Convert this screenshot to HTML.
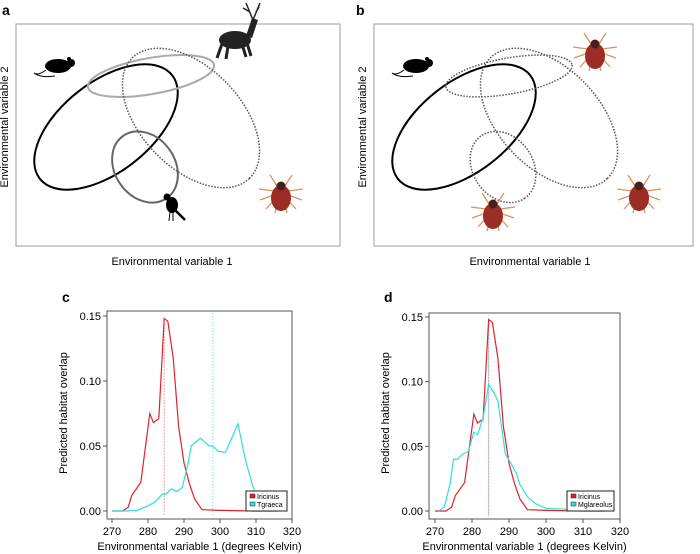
<!DOCTYPE html>
<html><head><meta charset="utf-8"><style>
body{margin:0;background:#fff;}
svg{display:block;font-family:"Liberation Sans",sans-serif;}
</style></head><body>
<svg id="fig" width="700" height="554" viewBox="0 0 700 554">
<!-- Panel a -->
<g>
<text x="2" y="15" font-size="14" font-weight="bold">a</text>
<rect x="16" y="24" width="324" height="222" fill="none" stroke="#9a9aa4" stroke-width="1"/>
<text x="172" y="265" font-size="11" text-anchor="middle">Environmental variable 1</text>
<text transform="translate(8,127) rotate(-90)" font-size="11" text-anchor="middle">Environmental variable 2</text>
<ellipse cx="106" cy="127" rx="84" ry="45" transform="rotate(-38 106 127)" fill="none" stroke="#000" stroke-width="2"/>
<ellipse cx="151" cy="76" rx="64" ry="18" transform="rotate(-10 151 76)" fill="none" stroke="#aaa" stroke-width="2"/>
<ellipse cx="191" cy="118" rx="84" ry="50" transform="rotate(46 191 118)" fill="none" stroke="#555" stroke-width="1.5" stroke-dasharray="1.5,1.5"/>
<ellipse cx="145" cy="167" rx="38" ry="30" transform="rotate(55 145 167)" fill="none" stroke="#666" stroke-width="2"/>
<g><ellipse cx="58" cy="66" rx="13" ry="7" fill="#000"/><circle cx="71" cy="63" r="4" fill="#000"/><circle cx="69" cy="59" r="2" fill="#000"/><path d="M46 70 Q38 76 34 73 Q40 78 55 76" stroke="#000" fill="none" stroke-width="1"/></g>
<g><ellipse cx="235" cy="40" rx="16" ry="9" fill="#222"/><path d="M246 36 L252 18 L258 20 L252 38 Z" fill="#222"/><path d="M253 20 L246 3 M253 20 L260 3 M250 12 L243 8 M256 12 L259 7" stroke="#222" stroke-width="1.5"/><path d="M222 44 L217 58 M228 46 L226 59 M242 44 L246 57 M247 43 L251 56" stroke="#222" stroke-width="3"/></g>
<g><ellipse cx="172" cy="205" rx="6" ry="8" fill="#000"/><circle cx="167" cy="197" r="3.5" fill="#000"/><path d="M175 210 L185 220" stroke="#000" stroke-width="2.5"/><path d="M170 212 L169 221 M173 212 L173 221" stroke="#000"/></g>
<g id="tickA" transform="translate(281,193)"><path d="M-7 -2 L-22 -4 M-7 2 L-21 7 M-6 6 L-15 16 M-3 8 L-6 20 M7 -2 L22 -4 M7 2 L21 7 M6 6 L15 16 M3 8 L6 20 M-4 -7 L-11 -18 M4 -7 L11 -18" stroke="#d8955a" stroke-width="1.3"/><ellipse cx="0" cy="5" rx="10" ry="13" fill="#9b2d26"/><circle cx="0" cy="-7" r="4.5" fill="#4a1d1a"/></g>
</g>
<!-- Panel b -->
<g>
<text x="356" y="15" font-size="14" font-weight="bold">b</text>
<rect x="374" y="24" width="319" height="222" fill="none" stroke="#9a9aa4" stroke-width="1"/>
<text x="530" y="265" font-size="11" text-anchor="middle">Environmental variable 1</text>
<text transform="translate(366,127) rotate(-90)" font-size="11" text-anchor="middle">Environmental variable 2</text>
<g transform="translate(358,0)">
<ellipse cx="106" cy="127" rx="84" ry="45" transform="rotate(-38 106 127)" fill="none" stroke="#000" stroke-width="2"/>
<ellipse cx="151" cy="76" rx="64" ry="18" transform="rotate(-10 151 76)" fill="none" stroke="#555" stroke-width="1.5" stroke-dasharray="1.5,1.5"/>
<ellipse cx="191" cy="118" rx="84" ry="50" transform="rotate(46 191 118)" fill="none" stroke="#555" stroke-width="1.5" stroke-dasharray="1.5,1.5"/>
<ellipse cx="145" cy="167" rx="38" ry="30" transform="rotate(55 145 167)" fill="none" stroke="#555" stroke-width="1.5" stroke-dasharray="1.5,1.5"/>
<g><ellipse cx="58" cy="66" rx="13" ry="7" fill="#000"/><circle cx="71" cy="63" r="4" fill="#000"/><circle cx="69" cy="59" r="2" fill="#000"/><path d="M46 70 Q38 76 34 73 Q40 78 55 76" stroke="#000" fill="none" stroke-width="1"/></g>
</g>
<use href="#tickA" transform="translate(314,-142)"/>
<use href="#tickA" transform="translate(212,18)"/>
<use href="#tickA" transform="translate(358,0)"/>
</g>
<g id="charts"></g>
</svg>
<script>
const xTicks=[270,280,290,300,310,320];
const yTicks=[0,0.05,0.10,0.15];
const yTickLabels=["0.00","0.05","0.10","0.15"];
const ricinusX=[270,273,274.5,275.5,278,280.5,281.5,283,284.5,285.5,287,288.5,290,291.5,293,295,300,310,316];
const ricinusY=[0,0,0.003,0.012,0.022,0.075,0.068,0.071,0.148,0.146,0.118,0.065,0.037,0.021,0.009,0.001,0.0005,0,0];
const graecaX=[270,274,277,280,282,284,285,286.5,288,289.5,291,292,294.5,297,298,299.5,301.5,305,307,309,311,313,317];
const graecaY=[0,0,0.0005,0.004,0.007,0.013,0.013,0.017,0.015,0.018,0.035,0.05,0.056,0.05,0.05,0.046,0.045,0.067,0.04,0.02,0.005,0.001,0];
const glareolusX=[271,272.5,274,275,276,277.5,279,280.5,281.5,283,284.5,286,287,288,289,290.5,292,293,295,297,300,305,310,313];
const glareolusY=[0,0.003,0.02,0.04,0.04,0.044,0.046,0.061,0.059,0.072,0.098,0.091,0.085,0.065,0.044,0.037,0.029,0.02,0.011,0.006,0.002,0.0015,0.001,0.0008];
const meanC=[284.5,298];
const meanD=[284.5,284.5];
const NS="http://www.w3.org/2000/svg";
const root=document.getElementById('charts');
function mk(tag,attrs,parent){const e=document.createElementNS(NS,tag);for(const k in attrs)e.setAttribute(k,attrs[k]);parent.appendChild(e);return e;}
function panel(cfg){
  const g=mk('g',{},root);
  
  
  const sx=v=>cfg.x0+(v-270)*(cfg.x1-cfg.x0)/50;
  const sy=v=>cfg.y0-v*(cfg.y0-cfg.y15)/0.15;
  const lab=mk('text',{x:cfg.bl-45,y:302,'font-size':14,'font-weight':'bold'},g);lab.textContent=cfg.id;
  
  
  const fr=mk('rect',{x:cfg.bl,y:cfg.bt,width:cfg.br-cfg.bl,height:cfg.bb-cfg.bt,fill:'none',stroke:'#555','stroke-width':1},g);
  
  
  xTicks.forEach(t=>{
    const l=mk('line',{x1:sx(t),x2:sx(t),y1:cfg.bb,y2:cfg.bb+4,stroke:'#555'},g);
    
    
    const tx=mk('text',{x:sx(t),y:cfg.bb+16,'font-size':11,'text-anchor':'middle'},g);tx.textContent=t;
    
    
  });
  yTicks.forEach((t,i)=>{
    const l=mk('line',{x1:cfg.bl-4,x2:cfg.bl,y1:sy(t),y2:sy(t),stroke:'#555'},g);
    
    
    const tx=mk('text',{x:cfg.bl-6,y:sy(t)+4,'font-size':11,'text-anchor':'end'},g);tx.textContent=yTickLabels[i];
    
    
  });
  const xt=mk('text',{x:(cfg.bl+cfg.br)/2,y:550,'font-size':11,'text-anchor':'middle'},g);xt.textContent='Environmental variable 1 (degrees Kelvin)';
  
  
  const yt=mk('text',{transform:`translate(${cfg.bl-40},413) rotate(-90)`,'font-size':11,'text-anchor':'middle'},g);yt.textContent='Predicted habitat overlap';
  
  
  const cols=['#e0212b','#2de0e0'];
  cfg.means.forEach((m,i)=>{
    const l=mk('line',{x1:sx(m),x2:sx(m),y1:cfg.bt+2,y2:cfg.bb-3,stroke:cols[i],'stroke-width':1,'stroke-dasharray':'1,2',opacity:0.8},g);
    if(i==0)l.setAttribute('y1',sy(0.148));
    
    
  });
  cfg.series.forEach((s,i)=>{
    const p=mk('polyline',{points:s.x.map((v,j)=>sx(v)+','+sy(s.y[j])).join(' '),fill:'none',stroke:cols[i],'stroke-width':1.2},g);
    
    
  });
  const lg=mk('g',{},g);
  
  
  mk('rect',{x:cfg.lx,y:491,width:cfg.lw,height:20,fill:'#fff',stroke:'#222','stroke-width':1},lg);
  cfg.series.forEach((s,i)=>{
    const r=mk('rect',{x:cfg.lx+4,y:494+i*8,width:5,height:4,fill:cols[i],stroke:'#222','stroke-width':0.5},lg);
    
    
    const t=mk('text',{x:cfg.lx+11,y:499+i*8,'font-size':7},lg);t.textContent=s.label;
    
    
  });
}
panel({id:'c',x0:112,x1:292,y0:511,y15:316,bl:107,br:292,bt:311,bb:519,lx:246,lw:41,means:meanC,
  series:[{name:'iricinus',label:'Iricinus',x:ricinusX,y:ricinusY},{name:'tgraeca',label:'Tgraeca',x:graecaX,y:graecaY}]});
panel({id:'d',x0:435,x1:620,y0:511,y15:317,bl:429,br:620,bt:313,bb:519,lx:567,lw:47,means:meanD,
  series:[{name:'iricinus',label:'Iricinus',x:ricinusX,y:ricinusY},{name:'mglareolus',label:'Mglareolus',x:glareolusX,y:glareolusY}]});
</script>
</body></html>
